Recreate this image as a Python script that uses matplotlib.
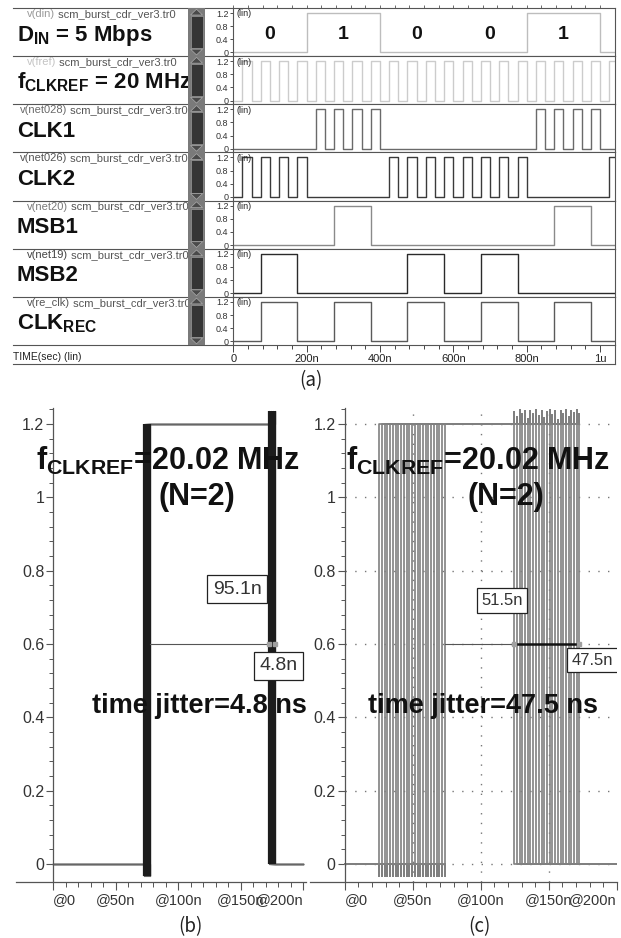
#!/usr/bin/env python3
"""Burst-mode CDR transient traces (a) and recovered-clock jitter overlays (b), (c)."""

import matplotlib

matplotlib.use("Agg")
import matplotlib.pyplot as plt
import numpy as np
from matplotlib.patches import Polygon, Rectangle
from matplotlib.ticker import FixedLocator

plt.rcParams["font.family"] = ["Liberation Sans", "DejaVu Sans"]
plt.rcParams["mathtext.fontset"] = "custom"
plt.rcParams["mathtext.rm"] = "Liberation Sans"
plt.rcParams["mathtext.bf"] = "Liberation Sans:bold"
plt.rcParams["mathtext.it"] = "Liberation Sans:italic"

W, H = 621, 938
V_HIGH = 1.2

# ---- (a) transient traces, times in ns
T_END_A = 1040
DIN_BIT_NS = 200
DIN_BITS = [0, 1, 0, 0, 1]
FREF_RISE = [25, 75, 125, 175, 225, 275, 325, 375, 425, 475, 525,
             575, 625, 675, 725, 775, 825, 875, 925, 975, 1025]
CLK1_RISE = [225, 275, 325, 375, 825, 875, 925, 975]
CLK2_RISE = [25, 75, 125, 175, 425, 475, 525, 575, 625, 675, 725, 775, 1025]
MSB1_RISE = [275, 875]
MSB2_RISE = [75, 475, 675]
CLKREC_RISE = [75, 275, 475, 675, 875]
CLK_WIDTH = 25
SLOT_WIDTH = 100

NODES = ["v(din)", "v(fref)", "v(net028)", "v(net026)", "v(net20)", "v(net19)", "v(re_clk)"]
FILE_TAG = " scm_burst_cdr_ver3.tr0"
LABELS = [
    r"$\mathbf{D}_{\mathbf{IN}}$ = 5 Mbps",
    r"$\mathbf{f}_{\mathbf{CLKREF}}$ = 20 MHz",
    "CLK1",
    "CLK2",
    "MSB1",
    "MSB2",
    r"$\mathbf{CLK}_{\mathbf{REC}}$",
]
TRACE_COLORS = ["#bdbdbd", "#cccccc", "#6a6a6a", "#3a3a3a", "#8a8a8a", "#2a2a2a", "#5a5a5a"]
NODE_COLORS = ["#9a9a9a", "#c4c4c4", "#6a6a6a", "#555555", "#7a7a7a", "#444444", "#555555"]
NODE_X = [27, 27, 20, 20, 27, 27, 27]
ROW_YTICKS = [0, 0.4, 0.8, 1.2]
ROW_YLABELS = ["0", "0.4", "0.8", "1.2"]
TIME_TICKS = [0, 200, 400, 600, 800, 1000]
TIME_LABELS = ["0", "200n", "400n", "600n", "800n", "1u"]

# ---- (b), (c) overlaid recovered-clock edges, times in ns
RISE_B = [72.6, 73.4, 74.2, 75.0, 75.8, 76.6, 77.4]
FALL_B = [172.6, 173.4, 174.2, 175.0, 175.8, 176.6, 177.4]
PEAK_B = [1.236, 1.228, 1.236, 1.232, 1.236, 1.230, 1.236]
RISE_C = [25.4, 27.3, 29.5, 31.4, 33.6, 35.5, 37.6, 39.4, 41.6, 43.7, 45.5, 47.6, 49.5,
          51.7, 53.6, 55.5, 57.7, 59.6, 61.5, 63.7, 65.6, 67.5, 69.7, 71.6, 73.9]
FALL_C = [124.8, 126.7, 128.8, 130.6, 132.8, 134.7, 136.6, 138.8, 140.7, 142.6, 144.8, 146.7, 148.6,
          150.8, 152.7, 154.6, 156.8, 158.7, 160.6, 162.8, 164.6, 166.7, 168.8, 170.6, 172.3]
PEAK_C = [1.232, 1.218, 1.238, 1.226, 1.236, 1.214, 1.234, 1.228, 1.238, 1.222, 1.236, 1.216, 1.232,
          1.238, 1.224, 1.236, 1.212, 1.234, 1.228, 1.238, 1.22, 1.236, 1.23, 1.238, 1.226]
RISE_DIP = -0.033
MEAS_LEVEL = 0.6
SPAN_B, JITTER_B = "95.1n", 4.8
SPAN_C, JITTER_C = "51.5n", 47.5
EYE_YTICKS = [0, 0.2, 0.4, 0.6, 0.8, 1.0, 1.2]
EYE_YLABELS = ["0", "0.2", "0.4", "0.6", "0.8", "1", "1.2"]
EYE_XTICKS = [0, 50, 100, 150, 200]
EYE_XLABELS = ["@0", "@50n", "@100n", "@150n", "@200n"]
FREQ_TEXT = r"$\mathbf{f}_{\mathbf{CLKREF}}$=20.02 MHz"
DIV_TEXT = "(N=2)"


def pulse_wave(rises, width, t_end):
    t, v = [0.0], [0.0]
    for r in rises:
        t += [r, r, r + width, r + width]
        v += [0.0, V_HIGH, V_HIGH, 0.0]
    t.append(max(t_end, t[-1]))
    v.append(0.0)
    return t, v


def px_axes(fig, x0, y0, x1, y1):
    return fig.add_axes([x0 / W, 1 - y1 / H, (x1 - x0) / W, (y1 - y0) / H])


fig = plt.figure(figsize=(W / 100, H / 100), dpi=100, facecolor="white")

# ---------------- (a)
ROW_TOP, ROW_H = 8.0, 48.15
X0A, X1A = 233.3, 614.7
GRID_COLOR = "#555555"

din_rise = [i * DIN_BIT_NS for i, b in enumerate(DIN_BITS) if b]
waves = [
    pulse_wave(din_rise, DIN_BIT_NS, T_END_A),
    pulse_wave(FREF_RISE, CLK_WIDTH, T_END_A),
    pulse_wave(CLK1_RISE, CLK_WIDTH, T_END_A),
    pulse_wave(CLK2_RISE, CLK_WIDTH, T_END_A),
    pulse_wave(MSB1_RISE, SLOT_WIDTH, T_END_A),
    pulse_wave(MSB2_RISE, SLOT_WIDTH, T_END_A),
    pulse_wave(CLKREC_RISE, SLOT_WIDTH, T_END_A),
]

row_tops = [ROW_TOP + i * ROW_H for i in range(len(waves))]
for i, ((t, v), color) in enumerate(zip(waves, TRACE_COLORS)):
    ax = px_axes(fig, X0A, row_tops[i], X1A, row_tops[i] + ROW_H)
    ax.plot(t, v, color=color, linewidth=1.0)
    ax.set_xlim(0, T_END_A)
    ax.set_ylim(-0.113, 1.353)
    ax.set_yticks(ROW_YTICKS, ROW_YLABELS)
    ax.tick_params(axis="y", direction="out", length=2.5, width=0.6, pad=1,
                   labelsize=6.5, colors="#333333")
    for spine in ax.spines.values():
        spine.set_color(GRID_COLOR)
        spine.set_linewidth(0.8)
    ax.text(0.008, 0.97, "(lin)", transform=ax.transAxes, ha="left", va="top",
            fontsize=6.5, color="#222222")
    if i == 0:
        for k, bit in enumerate(DIN_BITS):
            ax.text((k + 0.5) * DIN_BIT_NS, 0.55, str(bit), ha="center", va="center",
                    fontsize=14, fontweight="bold", color="#111111")
        ax.xaxis.set_minor_locator(FixedLocator(np.arange(0, T_END_A, 40)))
        ax.tick_params(axis="x", which="both", bottom=False, top=True, labelbottom=False,
                       direction="out", length=2, width=0.6, colors="#555555")
        ax.set_xticks([])
    elif i == len(waves) - 1:
        ax.set_xticks(TIME_TICKS, TIME_LABELS)
        ax.xaxis.set_minor_locator(FixedLocator(np.arange(0, T_END_A, 40)))
        ax.tick_params(axis="x", which="major", direction="out", length=5, width=0.7,
                       pad=1.5, labelsize=8, labelcolor="#222222", color="#444444")
        ax.tick_params(axis="x", which="minor", direction="out", length=3, width=0.7,
                       color="#444444")
    else:
        ax.set_xticks([])

# left label column, clipped at the scrollbar
lab = px_axes(fig, 0, ROW_TOP, 188, ROW_TOP + 7 * ROW_H)
lab.set_xlim(0, 188)
lab.set_ylim(ROW_TOP + 7 * ROW_H, ROW_TOP)
lab.axis("off")
fig.canvas.draw()
renderer = fig.canvas.get_renderer()
for i, top in enumerate(row_tops):
    head = lab.text(NODE_X[i], top + 9, NODES[i], ha="left", va="baseline", fontsize=8,
                    color=NODE_COLORS[i], clip_on=True)
    w = head.get_window_extent(renderer).width
    lab.text(NODE_X[i] + w, top + 9, FILE_TAG, ha="left", va="baseline", fontsize=8,
             color="#555555", clip_on=True)
    lab.text(17, top + 32.5, LABELS[i], ha="left", va="baseline", fontsize=16,
             fontweight="bold", color="#111111", clip_on=True)

# ---------------- (b), (c)
EYE_TOP, EYE_BOT = 408, 882
ZERO_PX, PX_PER_V = 864, 366.7
ylim_eye = (-(EYE_BOT - ZERO_PX) / PX_PER_V, V_HIGH + (ZERO_PX - V_HIGH * PX_PER_V - EYE_TOP) / PX_PER_V)


def eye_panel(x0, x1, zero_px, px_per_ns, rises, falls, peaks, trace_color, trace_lw,
              edge_color, grid, span_text, span_xy, jitter, jitter_xy, box_fs):
    ax = px_axes(fig, x0, EYE_TOP, x1, EYE_BOT)
    ax.set_xlim(-(zero_px - x0) / px_per_ns, (x1 - zero_px) / px_per_ns)
    ax.set_ylim(*ylim_eye)
    t_end = EYE_XTICKS[-1]
    if grid:
        dots = (0, (1, 6))
        ax.hlines(EYE_YTICKS, 0, t_end, colors="#777777", linestyles=dots, linewidth=1.0, zorder=0.5)
        ax.vlines(EYE_XTICKS[1:-1], ylim_eye[0], ylim_eye[1], colors="#777777",
                  linestyles=dots, linewidth=1.0, zorder=0.5)
    for r, f, p in zip(rises, falls, peaks):
        ax.plot([0, r, r, r, f, f, f, t_end], [0, 0, RISE_DIP, V_HIGH, V_HIGH, p, 0, 0],
                color=trace_color, linewidth=trace_lw, zorder=2)
    if edge_color:
        ax.vlines(rises, RISE_DIP, V_HIGH, colors=edge_color, linewidth=1.6, zorder=3)
        ax.vlines(falls, 0, peaks, colors=edge_color, linewidth=1.6, zorder=3)
    ax.plot([max(rises), min(falls)], [MEAS_LEVEL, MEAS_LEVEL], color="#555555",
            linewidth=0.8, zorder=4)
    ax.plot([min(falls), max(falls)], [MEAS_LEVEL, MEAS_LEVEL], color="#111111",
            linewidth=1.8, solid_capstyle="butt", zorder=5)
    ax.plot([min(falls), max(falls)], [MEAS_LEVEL, MEAS_LEVEL], linestyle="none", marker="s",
            markersize=3.5, markerfacecolor="#a0a0a0", markeredgecolor="#a0a0a0", zorder=6)
    box = dict(boxstyle="square,pad=0.28", facecolor="white", edgecolor="#222222", linewidth=0.9)
    ax.text(*span_xy, span_text, ha="center", va="center", fontsize=box_fs, color="#333333",
            bbox=box, zorder=7, clip_on=True)
    ax.text(*jitter_xy, f"{jitter:g}n", ha="left", va="center", fontsize=box_fs, color="#333333",
            bbox=box, zorder=7, clip_on=True)

    ax.spines["left"].set_position(("data", 0))
    ax.spines["top"].set_visible(False)
    ax.spines["right"].set_visible(False)
    for s in ("left", "bottom"):
        ax.spines[s].set_color("#555555")
        ax.spines[s].set_linewidth(0.9)
    ax.set_yticks(EYE_YTICKS, EYE_YLABELS)
    ax.yaxis.set_minor_locator(FixedLocator(np.arange(0, 1.25, 0.04)))
    ax.set_xticks(EYE_XTICKS, EYE_XLABELS)
    ax.xaxis.set_minor_locator(FixedLocator(np.arange(0, 201, 10)))
    ax.tick_params(axis="y", which="major", direction="out", length=5, width=0.8, pad=1.5,
                   labelsize=11.5, labelcolor="#333333", color="#555555")
    ax.tick_params(axis="y", which="minor", direction="out", length=3, width=0.7, color="#555555")
    ax.tick_params(axis="x", which="major", direction="out", length=6, width=0.8, pad=2,
                   labelsize=10.5, labelcolor="#333333", color="#555555")
    ax.tick_params(axis="x", which="minor", direction="out", length=3.5, width=0.7, color="#555555")
    xl = ax.get_xticklabels()
    xl[0].set_horizontalalignment("left")
    xl[-1].set_horizontalalignment("right")
    return ax


eye_panel(16, 306, 53.3, 1.25, RISE_B, FALL_B, PEAK_B, "#666666", 0.9, "#1c1c1c", False,
          SPAN_B, (147.0, 0.749), JITTER_B, (164.6, 0.541), 14)
eye_panel(310, 616.7, 344.7, 1.36, RISE_C, FALL_C, PEAK_C, "#808080", 1.2, None, True,
          SPAN_C, (115.7, 0.719), JITTER_C, (167.1, 0.556), 12)

# ---------------- overlay: frame lines, scrollbar, captions
ov = fig.add_axes([0, 0, 1, 1])
ov.set_xlim(0, W)
ov.set_ylim(H, 0)
ov.axis("off")

for k in range(len(waves) + 1):
    y = ROW_TOP + k * ROW_H
    ov.plot([13, X0A], [y, y], color=GRID_COLOR, linewidth=0.8)
time_row_bot = 364
ov.plot([13, X1A], [time_row_bot, time_row_bot], color=GRID_COLOR, linewidth=0.8)
ov.plot([X1A, X1A], [ROW_TOP + 7 * ROW_H, time_row_bot], color=GRID_COLOR, linewidth=0.8)
ov.text(13, 357, "TIME(sec) (lin)", ha="left", va="center", fontsize=7.5, color="#222222")

ov.add_patch(Rectangle((188, ROW_TOP), 17, 7 * ROW_H, facecolor="#7a7a7a", edgecolor="none", zorder=3))
for top in row_tops:
    bot = top + ROW_H
    ov.add_patch(Rectangle((190.5, top + 8), 12, ROW_H - 16, facecolor="#353535",
                           edgecolor="#999999", linewidth=0.5, zorder=4))
    ov.add_patch(Polygon([(190.5, top + 7), (202.5, top + 7), (196.5, top + 1.2)], closed=True,
                         facecolor="#4a4a4a", edgecolor="#aaaaaa", linewidth=0.5, zorder=4))
    ov.add_patch(Polygon([(190.5, bot - 7), (202.5, bot - 7), (196.5, bot - 1.2)], closed=True,
                         facecolor="#4a4a4a", edgecolor="#aaaaaa", linewidth=0.5, zorder=4))

big = dict(ha="center", va="baseline", fontweight="bold", color="#111111")
# (center of f-label, center of (N=2), center of jitter text) per panel, in pixels
for (cf, cn, cj), jitter in (((168.5, 196.5, 199.0), JITTER_B), ((478.5, 506.0, 483.0), JITTER_C)):
    ov.text(cf, 470, FREQ_TEXT, fontsize=22, **big)
    ov.text(cn, 505, DIV_TEXT, fontsize=22, **big)
    ov.text(cj, 713, f"time jitter={jitter:g} ns", fontsize=19.5, **big)

cap = dict(ha="center", va="center", fontsize=13.5, fontweight="light",
           family=["Noto Sans CJK KR", "DejaVu Sans"], color="#222222")
ov.text(311, 381, "(a)", **cap)
ov.text(190, 927, "(b)", **cap)
ov.text(479, 927, "(c)", **cap)

fig.savefig("out.png", dpi=100, facecolor="white")
